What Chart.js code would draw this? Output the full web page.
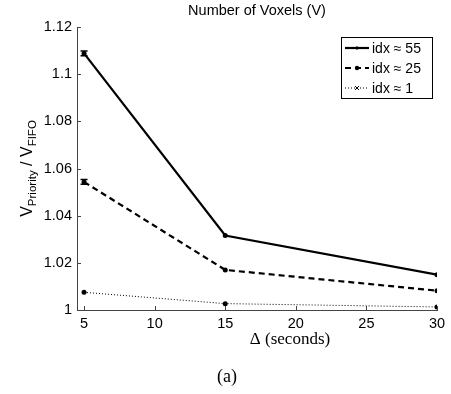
<!DOCTYPE html>
<html>
<head>
<meta charset="utf-8">
<script src="https://cdn.jsdelivr.net/npm/chart.js@4"></script>
<style>
    html, body { margin: 0; padding: 0; background: #fff; }
    #wrap { width: 451px; height: 394px; }
</style>
</head>
<body>
<div id="wrap"><canvas id="chart" width="451" height="394"></canvas></div>
<script>
// =====
// Data
// =====
const deltas = [5, 15, 30];
const ratio55 = [1.1088, 1.0316, 1.0150];
const ratio25 = [1.0543, 1.0170, 1.0082];
const ratio1 = [1.0075, 1.0027, 1.0013];
const err55 = [0.0010, 0.0002, 0.0002];
const err25 = [0.0010, 0.0002, 0.0002];
const err1 = [0.0002, 0.0002, 0.0001];
const seriesNames = ['idx \u2248 55', 'idx \u2248 25', 'idx \u2248 1'];
const xTicks = [5, 10, 15, 20, 25, 30];
const yTicks = [1, 1.02, 1.04, 1.06, 1.08, 1.1, 1.12];

const SANS = "'Liberation Sans', Arial, Helvetica, sans-serif";
const SERIF = "'Liberation Serif', 'Times New Roman', serif";

function toPoints(values) {
    return deltas.map((d, i) => ({ x: d, y: values[i] }));
}

// error bars drawn through the scales
const errorBarPlugin = {
    id: 'errorBars',
    afterDatasetsDraw(chart) {
        const ctx = chart.ctx;
        const xs = chart.scales.x;
        const ys = chart.scales.y;
        chart.data.datasets.forEach(ds => {
            if (!ds.errors) return;
            ctx.save();
            ctx.strokeStyle = '#000';
            ctx.lineWidth = 1.5;
            ds.data.forEach((p, i) => {
                const x = xs.getPixelForValue(p.x);
                const yTop = ys.getPixelForValue(p.y + ds.errors[i]);
                const yBot = ys.getPixelForValue(p.y - ds.errors[i]);
                if (yBot - yTop < 3) return; // too small to show
                ctx.beginPath();
                ctx.moveTo(x, yTop); ctx.lineTo(x, yBot);
                ctx.moveTo(x - 3.5, yTop); ctx.lineTo(x + 3.5, yTop);
                ctx.moveTo(x - 3.5, yBot); ctx.lineTo(x + 3.5, yBot);
                ctx.stroke();
            });
            ctx.restore();
        });
    }
};

// titles, inward ticks and boxed legend
const decorPlugin = {
    id: 'decor',
    afterDraw(chart) {
        const ctx = chart.ctx;
        const area = chart.chartArea;
        const xs = chart.scales.x;
        const ys = chart.scales.y;
        ctx.save();
        ctx.fillStyle = '#000';

        // inward tick marks
        ctx.strokeStyle = '#444';
        ctx.lineWidth = 1;
        ctx.beginPath();
        yTicks.forEach(v => {
            const y = Math.round(ys.getPixelForValue(v)) + 0.5;
            ctx.moveTo(area.left, y); ctx.lineTo(area.left + 4, y);
        });
        xTicks.forEach(v => {
            const x = Math.round(xs.getPixelForValue(v)) + 0.5;
            ctx.moveTo(x, area.bottom); ctx.lineTo(x, area.bottom - 4);
        });
        ctx.stroke();

        // title
        ctx.font = '14.5px ' + SANS;
        ctx.textAlign = 'center';
        ctx.textBaseline = 'alphabetic';
        ctx.fillText('Number of Voxels (V)', (area.left + area.right) / 2, 15);

        // x axis label and caption
        ctx.font = '17px ' + SERIF;
        ctx.fillText('\u0394 (seconds)', 290, 344);
        ctx.font = '18px ' + SERIF;
        ctx.fillText('(a)', 227, 382);

        // y axis label with subscripts
        const parts = [
            { t: 'V', s: 16, dy: 0 },
            { t: 'Priority', s: 11.5, dy: 4 },
            { t: ' / ', s: 16, dy: 0 },
            { t: 'V', s: 16, dy: 0 },
            { t: 'FIFO', s: 11.5, dy: 4 }
        ];
        let total = 0;
        parts.forEach(p => {
            ctx.font = p.s + 'px ' + SANS;
            p.w = ctx.measureText(p.t).width;
            total += p.w;
        });
        ctx.translate(32, (area.top + area.bottom) / 2);
        ctx.rotate(-Math.PI / 2);
        ctx.textAlign = 'left';
        let cx = -total / 2;
        parts.forEach(p => {
            ctx.font = p.s + 'px ' + SANS;
            ctx.fillText(p.t, cx, p.dy);
            cx += p.w;
        });
        ctx.setTransform(1, 0, 0, 1, 0, 0);

        // legend box
        const bx = 341, by = 37, bw = 91, bh = 61;
        ctx.fillStyle = '#fff';
        ctx.fillRect(bx, by, bw, bh);
        ctx.strokeStyle = '#000';
        ctx.lineWidth = 1;
        ctx.strokeRect(bx + 0.5, by + 0.5, bw, bh);
        ctx.font = '14px ' + SANS;
        ctx.textAlign = 'left';
        ctx.textBaseline = 'middle';
        chart.data.datasets.forEach((ds, i) => {
            const y = by + 11 + i * 20;
            ctx.strokeStyle = '#000';
            ctx.lineWidth = ds.borderWidth;
            ctx.setLineDash(ds.borderDash || []);
            ctx.beginPath();
            ctx.moveTo(bx + 4, y); ctx.lineTo(bx + 28, y);
            ctx.stroke();
            ctx.setLineDash([]);
            ctx.lineWidth = 1;
            const mx = bx + 16;
            ctx.beginPath();
            if (ds.legendMarker === 'dot') {
                ctx.arc(mx, y, 2.2, 0, Math.PI * 2);
                ctx.fillStyle = '#000';
                ctx.fill();
            } else if (ds.legendMarker === 'x') {
                ctx.moveTo(mx - 2, y - 2); ctx.lineTo(mx + 2, y + 2);
                ctx.moveTo(mx - 2, y + 2); ctx.lineTo(mx + 2, y - 2);
                ctx.stroke();
            } else {
                ctx.moveTo(mx, y - 2); ctx.lineTo(mx, y + 2);
                ctx.stroke();
            }
            ctx.fillStyle = '#000';
            ctx.fillText(ds.label, bx + 31, y + 1);
        });
        ctx.restore();
    }
};

const datasets = [
    { label: seriesNames[0], data: toPoints(ratio55), errors: err55, borderWidth: 2.2, borderDash: [], legendMarker: 'plus' },
    { label: seriesNames[1], data: toPoints(ratio25), errors: err25, borderWidth: 2.2, borderDash: [6, 4], legendMarker: 'dot' },
    { label: seriesNames[2], data: toPoints(ratio1), errors: err1, borderWidth: 1, borderDash: [1, 2], legendMarker: 'x' }
].map(ds => Object.assign(ds, {
    borderColor: '#000',
    backgroundColor: '#000',
    pointRadius: 2.5,
    pointBorderWidth: 0,
    pointBackgroundColor: '#000',
    tension: 0,
    fill: false
}));

new Chart(document.getElementById('chart').getContext('2d'), {
    type: 'line',
    data: { datasets },
    options: {
        responsive: false,
        animation: false,
        devicePixelRatio: 1,
        layout: { padding: { left: 0, right: 14, top: 27, bottom: 0 } },
        plugins: {
            legend: { display: false },
            title: { display: false },
            tooltip: { enabled: false }
        },
        scales: {
            x: {
                type: 'linear',
                min: 4.5,
                max: 30,
                afterBuildTicks: s => { s.ticks = xTicks.map(v => ({ value: v })); },
                afterFit: s => { s.height = 84; },
                grid: { display: false, drawTicks: false },
                border: { display: true, color: '#444', width: 1 },
                ticks: { color: '#000', padding: 5, maxRotation: 0, font: { family: SANS, size: 14.5 } }
            },
            y: {
                min: 1,
                max: 1.12,
                afterBuildTicks: s => { s.ticks = yTicks.map(v => ({ value: v })); },
                afterFit: s => { s.width = 77; },
                grid: { display: false, drawTicks: false },
                border: { display: true, color: '#444', width: 1 },
                ticks: {
                    color: '#000',
                    padding: 5,
                    font: { family: SANS, size: 14.5 },
                    callback: v => String(Number(v.toFixed(2)))
                }
            }
        }
    },
    plugins: [errorBarPlugin, decorPlugin]
});
</script>
</body>
</html>
